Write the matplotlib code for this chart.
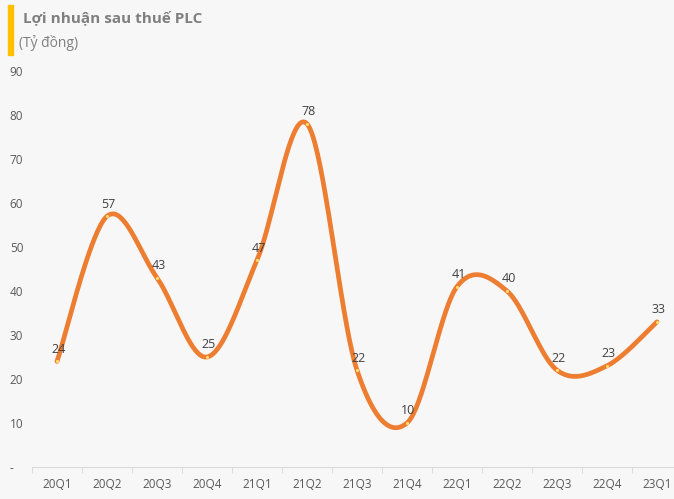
import numpy as np
import matplotlib
matplotlib.use("Agg")
import matplotlib.pyplot as plt
from matplotlib.patches import Rectangle

quarters = ["20Q1", "20Q2", "20Q3", "20Q4", "21Q1", "21Q2", "21Q3",
            "21Q4", "22Q1", "22Q2", "22Q3", "22Q4", "23Q1"]
profit = [24, 57, 43, 25, 47, 78, 22, 10, 41, 40, 22, 23, 33]
yticks = [0, 10, 20, 30, 40, 50, 60, 70, 80, 90]
ytick_labels = ["-", "10", "20", "30", "40", "50", "60", "70", "80", "90"]

ORANGE = "#ED7D31"
BG = "#F7F7F7"
plt.rcParams["font.family"] = ["Open Sans", "DejaVu Sans"]


def smooth(x, y, n=40):
    """Excel-like smoothed line: Catmull-Rom bezier through the points."""
    x = np.asarray(x, float); y = np.asarray(y, float)
    px = np.concatenate([[x[0]], x, [x[-1]]])
    py = np.concatenate([[y[0]], y, [y[-1]]])
    xs, ys = [], []
    t = np.linspace(0, 1, n)[:, None]
    for i in range(1, len(px) - 2):
        p0 = np.array([px[i], py[i]]); p3 = np.array([px[i + 1], py[i + 1]])
        p1 = p0 + (np.array([px[i + 1], py[i + 1]]) - np.array([px[i - 1], py[i - 1]])) / 6
        p2 = p3 - (np.array([px[i + 2], py[i + 2]]) - np.array([px[i], py[i]])) / 6
        b = ((1 - t) ** 3) * p0 + 3 * ((1 - t) ** 2) * t * p1 + 3 * (1 - t) * t ** 2 * p2 + t ** 3 * p3
        xs.append(b[:, 0]); ys.append(b[:, 1])
    return np.concatenate(xs), np.concatenate(ys)


fig = plt.figure(figsize=(6.74, 4.99), dpi=100, facecolor=BG)
ax = fig.add_axes([32 / 674, 32 / 499, 650 / 674, 396 / 499], facecolor=BG)

x = np.arange(len(quarters))
sx, sy = smooth(x, profit)
ax.plot(sx, sy, color=ORANGE, lw=3.4, solid_capstyle="round", zorder=2)
ax.scatter(x, profit, s=5, color="#FFE066", zorder=3, linewidths=0)
for xi, v in zip(x, profit):
    ax.annotate(str(v), (xi, v), xytext=(1, 4), textcoords="offset points",
                ha="center", va="bottom", fontsize=9, color="#404040")

ax.set_xlim(-0.5, len(quarters) - 0.5)
ax.set_ylim(0, 90)
ax.set_yticks(yticks)
ax.set_yticklabels(ytick_labels)
ax.set_xticks(x)
ax.set_xticklabels(quarters)
ax.set_xticks(np.arange(-0.5, len(quarters), 1), minor=True)
ax.tick_params(axis="x", which="major", length=0, pad=8, labelsize=8.5, labelcolor="#595959")
ax.tick_params(axis="x", which="minor", length=4, color="#D9D9D9", direction="out")
ax.tick_params(axis="y", length=0, pad=16, labelsize=8.5, labelcolor="#595959")
for lab in ax.get_yticklabels():
    lab.set_horizontalalignment("left")
for side in ["top", "right", "left"]:
    ax.spines[side].set_visible(False)
ax.spines["bottom"].set_color("#D9D9D9")

fig.patches.append(Rectangle((8 / 674, 1 - 55 / 499), 5 / 674, 50 / 499,
                             transform=fig.transFigure, color="#FFC000"))
fig.text(23 / 674, 1 - 18 / 499, "Lợi nhuận sau thuế PLC", fontsize=11,
         fontweight="bold", color="#7F7F7F", va="center")
fig.text(19 / 674, 1 - 43 / 499, "(Tỷ đồng)", fontsize=10, color="#7F7F7F", va="center")

fig.savefig("out.png", dpi=100, facecolor=BG)
